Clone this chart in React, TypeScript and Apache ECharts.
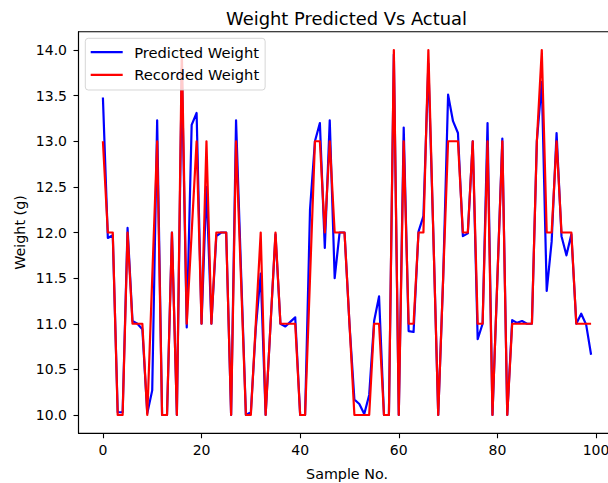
import React, { useEffect, useRef } from "react";
import * as echarts from "echarts";

// Sample numbers 0..99 on the x axis
const sampleNo: number[] = Array.from({ length: 100 }, (_, i) => i);

// Model output per sample (g)
const predictedWeight: number[] = [
  13.48, 11.94, 11.97, 10.03, 10.03, 12.05, 11.03, 11.0, 10.94, 10.02,
  10.27, 13.23, 10.0, 10.0, 12.0, 10.0, 13.8, 10.96, 13.18, 13.31,
  11.0, 12.5, 11.0, 11.96, 12.0, 12.0, 10.0, 13.23, 11.6, 10.0,
  10.03, 10.95, 11.55, 10.0, 11.0, 11.98, 11.0, 10.97, 11.02, 11.07,
  10.0, 10.0, 12.25, 13.0, 13.2, 11.83, 13.23, 11.5, 12.0, 12.0,
  11.0, 10.17, 10.12, 10.01, 10.22, 11.03, 11.3, 10.0, 10.0, 13.95,
  10.0, 13.15, 10.92, 10.91, 12.01, 12.18, 13.85, 12.0, 10.0, 11.5,
  13.51, 13.22, 13.09, 11.96, 11.99, 13.0, 10.83, 11.0, 13.2, 10.0,
  11.5, 13.03, 10.0, 11.04, 11.01, 11.03, 11.0, 11.0, 13.0, 13.65,
  11.36, 11.9, 13.09, 11.96, 11.75, 11.98, 11.0, 11.11, 10.99, 10.66,
];

// Measured weight per sample (g)
const recordedWeight: number[] = [
  13, 12, 12, 10, 10, 12, 11, 11, 11, 10,
  11.5, 13, 10, 10, 12, 10, 14, 11, 12, 13,
  11, 13, 11, 12, 12, 12, 10, 13, 11.5, 10,
  10, 11, 12, 10, 11, 12, 11, 11, 11, 11,
  10, 10, 11.5, 13, 13, 12, 13, 12, 12, 12,
  11, 10, 10, 10, 10, 11, 11, 10, 10, 14,
  10, 13, 11, 11, 12, 12, 14, 12, 10, 11.5,
  13, 13, 13, 12, 12, 13, 11, 11, 13, 10,
  11.5, 13, 10, 11, 11, 11, 11, 11, 13, 14,
  12, 12, 13, 12, 12, 12, 11, 11, 11, 11,
];

const xTicks: number[] = [0, 20, 40, 60, 80, 100];
const yTicks: number[] = [10, 10.5, 11, 11.5, 12, 12.5, 13, 13.5, 14];

const FONT = "DejaVu Sans";
// Legend handle: a plain horizontal stroke
const LINE_ICON = "path://M0,0L32,0L32,2.2L0,2.2Z";

export default function App() {
  const ref = useRef<HTMLDivElement>(null);

  useEffect(() => {
    if (!ref.current) return;
    const chart = echarts.init(ref.current, null, { renderer: "svg" });

    const axisCommon = {
      type: "value" as const,
      axisLine: { show: true, onZero: false, lineStyle: { color: "#000", width: 1.1 } },
      splitLine: { show: false },
    };

    chart.setOption({
      animation: false,
      backgroundColor: "#fff",
      textStyle: { fontFamily: FONT },
      grid: {
        left: 78.5,
        top: 31.75,
        width: 537,
        height: 401.5,
        show: true,
        borderColor: "#000",
        borderWidth: 1.1,
        containLabel: false,
        outerBoundsMode: "none",
      },
      xAxis: {
        ...axisCommon,
        min: -4.95,
        max: 103.95,
        axisTick: {
          show: true,
          length: 5,
          customValues: xTicks,
          lineStyle: { color: "#000", width: 1.1 },
        },
        axisLabel: {
          customValues: xTicks,
          color: "#000",
          fontSize: 14,
          fontFamily: FONT,
          margin: 10,
          formatter: (v: number) => String(v),
        },
      },
      yAxis: {
        ...axisCommon,
        min: 9.8,
        max: 14.2,
        axisTick: {
          show: true,
          length: 5,
          customValues: yTicks,
          lineStyle: { color: "#000", width: 1.1 },
        },
        axisLabel: {
          customValues: yTicks,
          color: "#000",
          fontSize: 14,
          fontFamily: FONT,
          margin: 11.5,
          formatter: (v: number) => v.toFixed(1),
        },
      },
      legend: {
        orient: "vertical",
        left: 85.3,
        top: 38.3,
        itemWidth: 32,
        itemHeight: 14,
        itemGap: 7.6,
        icon: LINE_ICON,
        padding: [6.4, 6, 7.7, 5.4],
        backgroundColor: "rgba(255,255,255,0.8)",
        borderColor: "rgba(204,204,204,0.8)",
        borderWidth: 1,
        borderRadius: 3,
        selectedMode: false,
        textStyle: {
          fontSize: 14.7,
          color: "#000",
          fontFamily: FONT,
          padding: [0, 0, 0, 6.5],
        },
        data: ["Predicted Weight", "Recorded Weight"],
        z: 10,
      },
      graphic: [
        {
          type: "text",
          x: 346.5,
          y: 18.4,
          style: {
            text: "Weight Predicted Vs Actual",
            font: `17.9px "${FONT}"`,
            fill: "#000",
            textAlign: "center",
            textVerticalAlign: "middle",
          },
        },
        {
          type: "text",
          x: 347,
          y: 474,
          style: {
            text: "Sample No.",
            font: `14.3px "${FONT}"`,
            fill: "#000",
            textAlign: "center",
            textVerticalAlign: "middle",
          },
        },
        {
          type: "text",
          x: 19.5,
          y: 232.5,
          rotation: Math.PI / 2,
          style: {
            text: "Weight (g)",
            font: `14.3px "${FONT}"`,
            fill: "#000",
            textAlign: "center",
            textVerticalAlign: "middle",
          },
        },
      ],
      series: [
        {
          name: "Predicted Weight",
          type: "line",
          data: sampleNo.map((i) => [i, predictedWeight[i]]),
          symbol: "none",
          color: "#0000ff",
          itemStyle: { color: "#0000ff" },
          lineStyle: { color: "#0000ff", width: 2.2, join: "round" },
          z: 2,
        },
        {
          name: "Recorded Weight",
          type: "line",
          data: sampleNo.map((i) => [i, recordedWeight[i]]),
          symbol: "none",
          color: "#ff0000",
          itemStyle: { color: "#ff0000" },
          lineStyle: { color: "#ff0000", width: 2.2, join: "round" },
          z: 3,
        },
      ],
    });

    return () => chart.dispose();
  }, []);

  return (
    <div
      ref={ref}
      style={{ position: "fixed", left: 0, top: 0, width: 608, height: 483, background: "#fff" }}
    />
  );
}
